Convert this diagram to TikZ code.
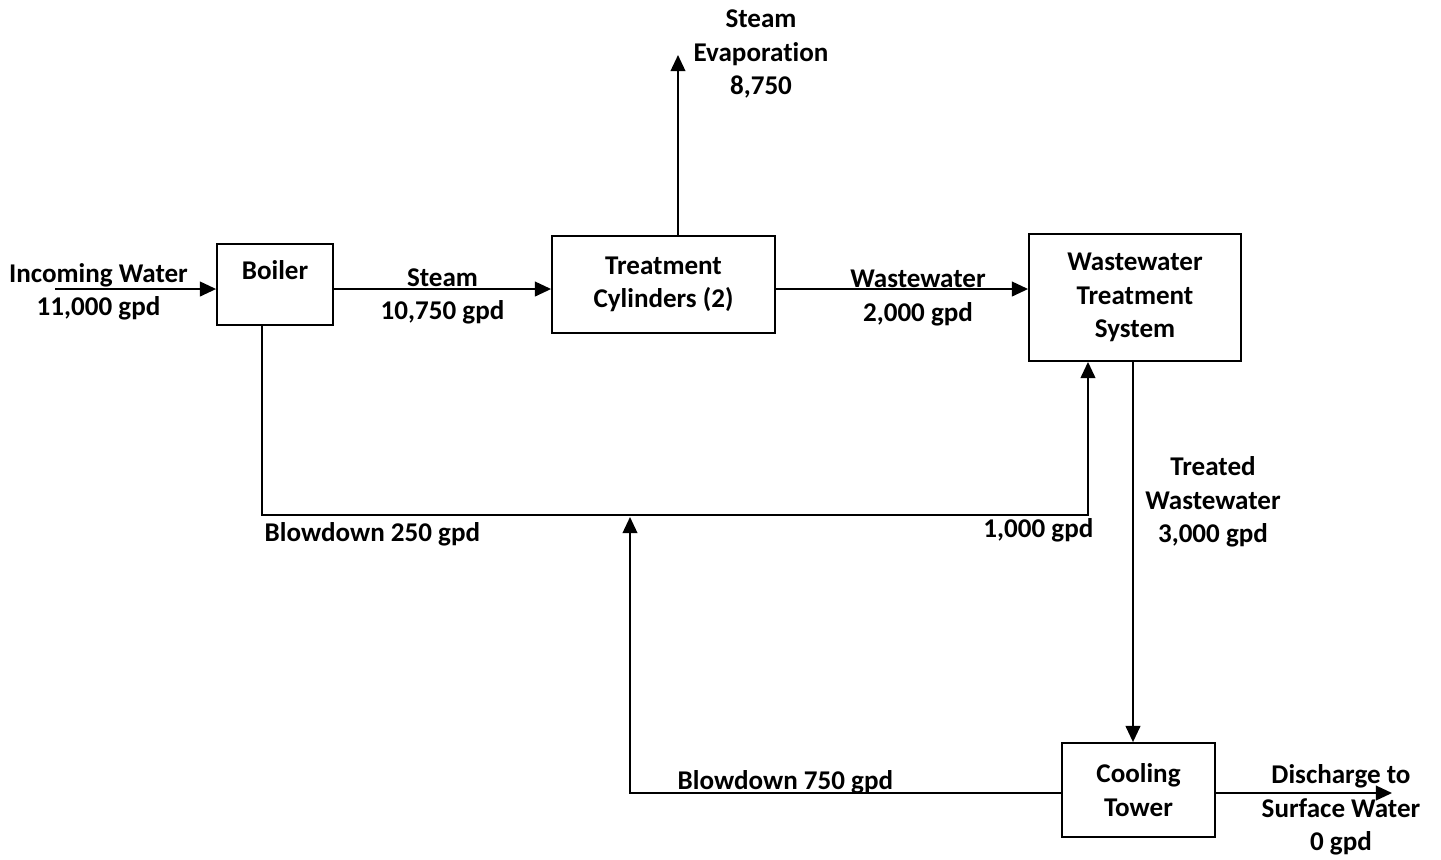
\documentclass[tikz,border=0pt]{standalone}
\usepackage{fontspec}
\setmainfont{Carlito}[Ligatures=NoCommon]
\usetikzlibrary{arrows.meta,positioning}

\begin{document}
\begin{tikzpicture}[
  x=0.01cm, y=-0.01cm,
  box/.style={draw, line width=0.5pt, inner sep=0pt, font=\fontsize{7.7}{9.5}\selectfont\bfseries, align=center},
  lbl/.style={font=\fontsize{7.7}{9.5}\selectfont\bfseries, align=center, inner sep=0pt},
  flow/.style={-{Triangle[length=4.6pt, width=4.2pt]}, line width=0.5pt},
  pipe/.style={line width=0.5pt}
]
\useasboundingbox (0,0) rectangle (1441,859);
% process units
\node[box, minimum width=1.16cm, minimum height=0.81cm,
      label={[lbl, anchor=north, yshift=-0.17cm]north:Boiler}] (boiler) at (275,284.5) {};
\node[box, minimum width=2.23cm, minimum height=0.97cm] (tc) at (663.5,284.5) {Treatment\\Cylinders (2)};
\node[box, minimum width=2.12cm, minimum height=1.27cm] (wts) at (1135,297.5) {Wastewater\\Treatment\\System};
\node[box, minimum width=1.53cm, minimum height=0.94cm] (ct) at (1138.5,790) {Cooling\\Tower};
% free ends and corners
\coordinate (inflow) at (55,289);
\coordinate (evap) at (678,55);
\coordinate (bdcorner) at (262,515);
\coordinate (bdrise) at (1088,515);
\coordinate (ctcorner) at (630,793);
\coordinate (ctjoin) at (630,517);
\coordinate (outfall) at (1392,793);
% main line
\draw[flow] (inflow) -- node[lbl, pos=0.27, yshift=-0.03cm]{Incoming Water\\11,000 gpd} (boiler.west |- inflow);
\draw[flow] (boiler.east |- inflow) -- node[lbl, yshift=-0.075cm]{Steam\\10,750 gpd} (tc.west |- inflow);
\draw[flow] (tc.east |- inflow) -- node[lbl, xshift=0.16cm, yshift=-0.09cm]{Wastewater\\2,000 gpd} (wts.west |- inflow);
\draw[flow] (tc.north -| evap) -- (evap);
\node[lbl] (evaplbl) at (761,54) {Steam\\Evaporation\\8,750};
% blowdown returns
\draw[flow] (boiler.south -| bdcorner) -- (bdcorner) -- (bdrise) -- (wts.south -| bdrise);
\node[lbl, anchor=west] (bdboiler) at (264,534) {Blowdown 250 gpd};
\node[lbl, anchor=east] (bdtotal) at (1094,530) {1,000 gpd};
\draw[flow] (ct.west |- ctcorner) -- (ctcorner) -- (ctjoin);
\node[lbl, anchor=west] (bdct) at (677,782) {Blowdown 750 gpd};
% treated water and discharge
\draw[flow] (wts.south -| 1133,0) -- (ct.north -| 1133,0);
\node[lbl] (treated) at (1213,502) {Treated\\Wastewater\\3,000 gpd};
\draw[flow] (ct.east |- outfall) -- (outfall);
\node[lbl] (discharge) at (1341,810) {Discharge to\\Surface Water\\0 gpd};
\end{tikzpicture}
\end{document}
